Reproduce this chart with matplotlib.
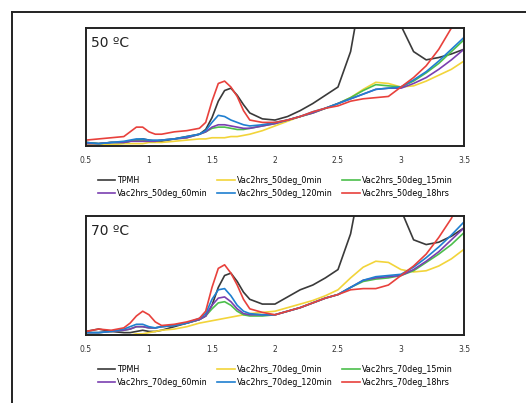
import matplotlib
matplotlib.use("Agg")
from matplotlib import pyplot as plt
from matplotlib.lines import Line2D

# shared energy axis (eV)
x = [0.5, 0.6, 0.7, 0.8, 0.85, 0.9, 0.95, 1.0, 1.05, 1.1, 1.2, 1.3, 1.4, 1.45,
     1.5, 1.55, 1.6, 1.65, 1.7, 1.75, 1.8, 1.9, 2.0, 2.1, 2.2, 2.3, 2.4, 2.5,
     2.6, 2.7, 2.8, 2.9, 3.0, 3.1, 3.2, 3.3, 3.4, 3.5]

# 50 C series
tpmh_50 = [0.03, 0.02, 0.03, 0.03, 0.04, 0.05, 0.06, 0.05, 0.04, 0.04, 0.06, 0.08, 0.1, 0.14,
           0.24, 0.38, 0.47, 0.49, 0.43, 0.35, 0.28, 0.23, 0.22, 0.25, 0.3, 0.36, 0.43, 0.5,
           0.8, 1.4, 1.6, 1.4, 1.02, 0.8, 0.73, 0.75, 0.78, 0.82]
min0_50 = [0.01, 0.01, 0.01, 0.02, 0.02, 0.02, 0.02, 0.03, 0.03, 0.03, 0.04, 0.05, 0.06, 0.06,
           0.07, 0.07, 0.07, 0.08, 0.08, 0.09, 0.1, 0.13, 0.17, 0.21, 0.25, 0.28, 0.32, 0.36,
           0.41, 0.48, 0.54, 0.53, 0.5, 0.51, 0.55, 0.6, 0.65, 0.72]
min15_50 = [0.03, 0.02, 0.03, 0.03, 0.04, 0.05, 0.05, 0.04, 0.04, 0.05, 0.06, 0.07, 0.1, 0.12,
            0.15, 0.16, 0.16, 0.15, 0.14, 0.14, 0.15, 0.17, 0.19, 0.22, 0.25, 0.28, 0.32, 0.36,
            0.41, 0.47, 0.52, 0.51, 0.5, 0.55, 0.62, 0.7, 0.8, 0.9]
min60_50 = [0.02, 0.02, 0.03, 0.03, 0.04, 0.04, 0.04, 0.04, 0.04, 0.05, 0.06, 0.07, 0.1, 0.12,
            0.16, 0.18, 0.18, 0.17, 0.16, 0.15, 0.15, 0.17, 0.19, 0.22, 0.25, 0.28, 0.32, 0.36,
            0.4, 0.44, 0.48, 0.49, 0.49, 0.53, 0.58, 0.65, 0.73, 0.82]
min120_50 = [0.03, 0.02, 0.03, 0.04, 0.05, 0.06, 0.06, 0.05, 0.05, 0.05, 0.06, 0.08, 0.1, 0.13,
             0.2, 0.26, 0.25, 0.22, 0.2, 0.18, 0.17, 0.18, 0.2, 0.22, 0.25, 0.29, 0.32, 0.36,
             0.4, 0.44, 0.48, 0.49, 0.5, 0.56, 0.63, 0.72, 0.82, 0.92]
hrs18_50 = [0.05, 0.06, 0.07, 0.08, 0.12, 0.16, 0.16, 0.12, 0.1, 0.1, 0.12, 0.13, 0.15, 0.2,
            0.38, 0.53, 0.55, 0.5, 0.42, 0.3, 0.22, 0.2, 0.2, 0.22, 0.25, 0.29, 0.32, 0.34,
            0.38, 0.4, 0.41, 0.42, 0.5, 0.58, 0.68, 0.82, 1.0, 1.2]

# 70 C series
tpmh_70 = [0.03, 0.05, 0.03, 0.02, 0.02, 0.03, 0.04, 0.03, 0.03, 0.04, 0.07, 0.1, 0.13, 0.16,
           0.25, 0.4, 0.5, 0.52, 0.45, 0.36, 0.3, 0.26, 0.26, 0.32, 0.38, 0.42, 0.48, 0.55,
           0.85, 1.4, 1.6, 1.4, 1.05, 0.8, 0.76, 0.78, 0.83, 0.9]
min0_70 = [0.0, 0.0, 0.0, 0.0, 0.0, 0.01, 0.01, 0.02, 0.03, 0.04, 0.05, 0.07, 0.1, 0.11,
           0.12, 0.13, 0.14, 0.15, 0.16, 0.17, 0.18, 0.19, 0.2, 0.23, 0.26, 0.29, 0.33, 0.38,
           0.48, 0.57, 0.62, 0.61, 0.55, 0.53, 0.54, 0.58, 0.64, 0.72]
min15_70 = [0.02, 0.02, 0.03, 0.04, 0.05, 0.07, 0.07, 0.06, 0.06, 0.07, 0.08, 0.1, 0.13, 0.16,
            0.22, 0.27, 0.28, 0.25, 0.2, 0.17, 0.16, 0.16, 0.17, 0.2, 0.23, 0.27, 0.31, 0.34,
            0.4, 0.45, 0.47, 0.48, 0.5, 0.54, 0.61, 0.68, 0.76, 0.86]
min60_70 = [0.02, 0.02, 0.03, 0.04, 0.05, 0.07, 0.07, 0.06, 0.06, 0.07, 0.08, 0.1, 0.13, 0.16,
            0.25, 0.31, 0.32, 0.28, 0.22, 0.18, 0.17, 0.17, 0.17, 0.2, 0.23, 0.27, 0.31, 0.34,
            0.4, 0.46, 0.48, 0.49, 0.5, 0.55, 0.62, 0.7, 0.8, 0.9]
min120_70 = [0.02, 0.02, 0.03, 0.05, 0.07, 0.09, 0.09, 0.07, 0.06, 0.07, 0.08, 0.1, 0.14, 0.18,
             0.3, 0.38, 0.39, 0.33, 0.25, 0.2, 0.18, 0.17, 0.17, 0.2, 0.23, 0.27, 0.31, 0.34,
             0.4, 0.46, 0.49, 0.5, 0.51, 0.57, 0.65, 0.74, 0.84, 0.95]
hrs18_70 = [0.03, 0.05, 0.04, 0.06, 0.1, 0.16, 0.2, 0.17, 0.11, 0.08, 0.09, 0.11, 0.14, 0.2,
            0.4, 0.56, 0.59, 0.52, 0.42, 0.3, 0.22, 0.19, 0.17, 0.2, 0.23, 0.27, 0.31, 0.34,
            0.38, 0.39, 0.39, 0.42, 0.5, 0.58, 0.68, 0.82, 0.98, 1.2]

xticks = [0.5, 1, 1.5, 2, 2.5, 3, 3.5]
xticklabels = ["0.5", "1", "1.5", "2", "2.5", "3", "3.5"]

colors = {"TPMH": "#3a3a3a", "0min": "#f2d43a", "15min": "#4cbf4c",
          "60min": "#7a3fb0", "120min": "#1f7fd0", "18hrs": "#e8413c"}


def panel(ax, temp, series):
    for key, y in series:
        label = "TPMH" if key == "TPMH" else f"Vac2hrs_{temp}deg_{key}"
        ax.plot(x, y, color=colors[key], lw=1.2, label=label)
    ax.set_xlim(0.5, 3.5)
    ax.set_ylim(0, 1)
    ax.set_yticks([])
    ax.set_xticks(xticks)
    ax.set_xticklabels(xticklabels)
    ax.tick_params(axis="x", length=0, labelsize=5.5, pad=7, colors="#333333")
    for sp in ax.spines.values():
        sp.set_color("#222222")
        sp.set_linewidth(1.4)
    ax.text(0.012, 0.93, f"{temp} ºC", transform=ax.transAxes, fontsize=10,
            va="top", ha="left", color="#222222")
    handles, labels = ax.get_legend_handles_labels()
    # column-wise fill: TPMH/60min, 0min/120min, 15min/18hrs
    order = [0, 3, 1, 4, 2, 5]
    ax.legend([handles[i] for i in order], [labels[i] for i in order],
              ncol=3, loc="upper center", bbox_to_anchor=(0.5, -0.19),
              frameon=False, fontsize=5.8, handlelength=2.2, handletextpad=0.2,
              columnspacing=1.2, labelspacing=0.55)


fig = plt.figure(figsize=(5.26, 4.03), dpi=100)
ax1 = fig.add_axes([0.1635, 0.6377, 0.7186, 0.2928])
ax2 = fig.add_axes([0.1635, 0.1687, 0.7186, 0.2953])

panel(ax1, 50, [("TPMH", tpmh_50), ("0min", min0_50), ("15min", min15_50),
                ("60min", min60_50), ("120min", min120_50), ("18hrs", hrs18_50)])
panel(ax2, 70, [("TPMH", tpmh_70), ("0min", min0_70), ("15min", min15_70),
                ("60min", min60_70), ("120min", min120_70), ("18hrs", hrs18_70)])

# outer frame lines (top and left)
fig.add_artist(Line2D([12 / 526, 1.0], [1 - 12 / 403, 1 - 12 / 403], color="#222222", lw=1.4))
fig.add_artist(Line2D([12 / 526, 12 / 526], [0.0, 1 - 12 / 403], color="#222222", lw=1.4))

plt.savefig("out.png", dpi=100)
